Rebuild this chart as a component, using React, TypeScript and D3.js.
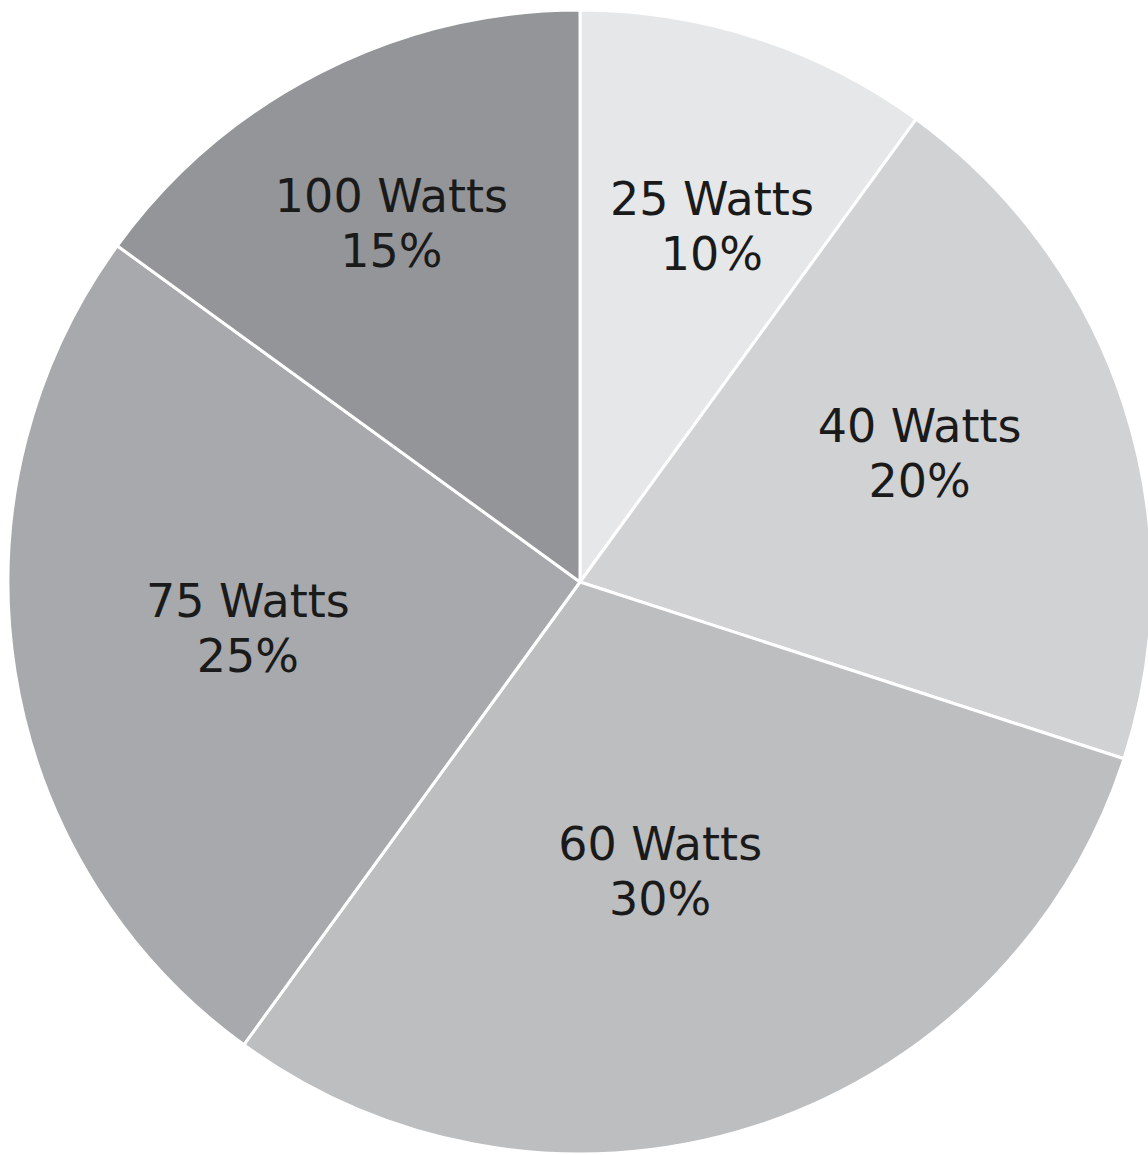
import { useEffect, useRef } from "react";
import * as d3 from "d3";

const labels = ["25 Watts", "40 Watts", "60 Watts", "75 Watts", "100 Watts"];
const shares = [10, 20, 30, 25, 15];
const colors = ["#e6e7e8", "#d1d2d4", "#bcbec0", "#a7a9ac", "#939598"];
// label placement: distance from centre and turn from the slice's mid angle (degrees)
const labelRadii = [382, 364, 298, 335, 407];
const labelTurns = [2.2, -3.1, 2.4, 1.5, -0.6];

export default function App() {
  const svgRef = useRef<SVGSVGElement | null>(null);

  useEffect(() => {
    const width = 1148;
    const height = 1155;
    const cx = 580;
    const cy = 582;
    const radius = 572;

    const svg = d3.select(svgRef.current);
    svg.selectAll("*").remove();
    svg.attr("width", width).attr("height", height);

    const g = svg.append("g").attr("transform", `translate(${cx},${cy})`);

    const pie = d3.pie<number>().sort(null).value(d => d);
    const arcs = pie(shares);
    const arc = d3.arc<d3.PieArcDatum<number>>().innerRadius(0).outerRadius(radius);

    g.selectAll("path")
      .data(arcs)
      .join("path")
      .attr("d", arc)
      .attr("fill", (d, i) => colors[i])
      .attr("stroke", "#ffffff")
      .attr("stroke-width", 3)
      .attr("stroke-linejoin", "round");

    const fontSize = 46;
    const lineGap = 55;

    arcs.forEach((d, i) => {
      const mid = (d.startAngle + d.endAngle) / 2 + (labelTurns[i] * Math.PI) / 180;
      const [x, y] = d3.pointRadial(mid, labelRadii[i]);
      const t = g.append("text")
        .attr("text-anchor", "middle")
        .attr("font-family", "'DejaVu Sans', Verdana, sans-serif")
        .attr("font-size", fontSize)
        .attr("fill", "#1a1a1a");
      t.append("tspan").attr("x", x).attr("y", y - 9).text(labels[i]);
      t.append("tspan").attr("x", x).attr("y", y - 9 + lineGap).text(`${shares[i]}%`);
    });
  }, []);

  return (
    <svg
      ref={svgRef}
      style={{ position: "absolute", left: 0, top: 0, display: "block", background: "#ffffff" }}
    ></svg>
  );
}
